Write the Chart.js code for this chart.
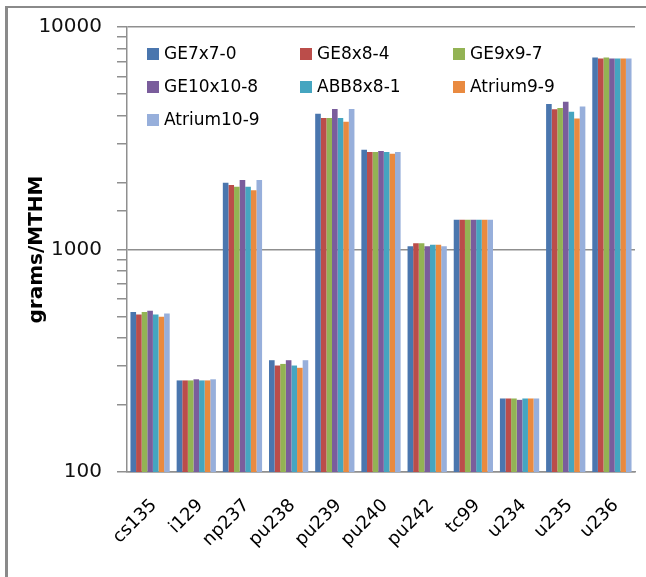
<!DOCTYPE html>
<html lang="en">

<head>
    <meta charset="UTF-8">
    <title>grams/MTHM</title>
    <script src="https://cdn.jsdelivr.net/npm/chart.js@4.4.1/dist/chart.umd.min.js"></script>
    <style>
        body { margin: 0; background: #fff; overflow: hidden; }
        #wrap { position: relative; width: 646px; height: 577px; }
        #frame {
            position: absolute; left: 5px; top: 6px; width: 700px; height: 700px;
            border-top: 2px solid #8a8a8a; border-left: 3px solid #8a8a8a;
        }
        canvas { position: absolute; left: 0; top: 0; }
    </style>
</head>

<body>
    <div id="wrap">
        <div id="frame"></div>
        <canvas id="chart" width="646" height="577"></canvas>
    </div>

    <script>
        const categories = ["cs135", "i129", "np237", "pu238", "pu239", "pu240", "pu242", "tc99", "u234", "u235", "u236"];
        const seriesNames = ["GE7x7-0", "GE8x8-4", "GE9x9-7", "GE10x10-8", "ABB8x8-1", "Atrium9-9", "Atrium10-9"];

        const ge7x7 = [524, 258, 1995, 318, 4072, 2805, 1033, 1362, 214, 4511, 7297];
        const ge8x8 = [510, 258, 1949, 301, 3900, 2741, 1066, 1362, 214, 4268, 7223];
        const ge9x9 = [524, 258, 1915, 306, 3900, 2741, 1066, 1362, 214, 4330, 7297];
        const ge10x10 = [531, 261, 2051, 318, 4277, 2769, 1033, 1362, 211, 4618, 7223];
        const abb8x8 = [510, 258, 1915, 301, 3900, 2741, 1050, 1362, 214, 4156, 7223];
        const atrium9 = [498, 258, 1845, 294, 3755, 2693, 1050, 1362, 214, 3880, 7223];
        const atrium10 = [515, 261, 2051, 318, 4277, 2741, 1033, 1362, 214, 4387, 7223];

        const yTickLabels = [100, 1000, 10000];
        const colors = ["#4a76ae", "#bb4d4a", "#93b354", "#7a5d9c", "#45a5c0", "#e98a40", "#97afdb"];

        const values = [ge7x7, ge8x8, ge9x9, ge10x10, abb8x8, atrium9, atrium10];
        const datasets = values.map((data, i) => ({
            label: seriesNames[i],
            data: data,
            backgroundColor: colors[i],
            borderWidth: 0,
            barPercentage: 1.0,
            categoryPercentage: 0.85
        }));

        // legend is drawn inside the plot, 3 columns like the original
        const insideLegend = {
            id: "insideLegend",
            afterDatasetsDraw(chart) {
                const { ctx, chartArea } = chart;
                ctx.save();
                ctx.font = "17px 'DejaVu Sans'";
                ctx.textBaseline = "middle";
                chart.data.datasets.forEach((ds, i) => {
                    const col = i % 3;
                    const row = Math.floor(i / 3);
                    const x = chartArea.left + 20 + col * 153;
                    const y = chartArea.top + 27 + row * 33;
                    ctx.fillStyle = ds.backgroundColor;
                    ctx.fillRect(x, y - 6, 12, 12);
                    ctx.fillStyle = "#000";
                    ctx.fillText(ds.label, x + 17, y + 1);
                });
                ctx.restore();
            }
        };

        const isMajor = v => yTickLabels.includes(v);

        new Chart(document.getElementById("chart"), {
            type: "bar",
            data: { labels: categories, datasets: datasets },
            options: {
                responsive: false,
                animation: false,
                devicePixelRatio: 1,
                layout: { padding: { top: 23, right: 11, bottom: 0, left: 0 } },
                plugins: {
                    legend: { display: false },
                    tooltip: { enabled: false }
                },
                scales: {
                    x: {
                        grid: { display: false, drawTicks: false },
                        border: { color: "#8f8f8f", width: 1.5 },
                        ticks: {
                            font: { family: "DejaVu Sans", size: 18 },
                            color: "#000",
                            minRotation: 45,
                            maxRotation: 45,
                            padding: 23,
                            labelOffset: 4,
                            autoSkip: false
                        },
                        afterFit: scale => {
                            scale.height = 105;
                            scale.paddingLeft = 0;
                            scale.paddingRight = 0;
                        }
                    },
                    y: {
                        type: "logarithmic",
                        min: 100,
                        max: 10000,
                        border: { color: "#8f8f8f", width: 1.5 },
                        grid: {
                            color: ctx => isMajor(ctx.tick.value) ? "#8f8f8f" : "rgba(0,0,0,0)",
                            tickColor: "#8f8f8f",
                            lineWidth: 1.5,
                            tickLength: 10
                        },
                        ticks: {
                            autoSkip: false,
                            padding: 15,
                            font: { family: "DejaVu Sans", size: 20 },
                            color: "#111",
                            callback: v => isMajor(v) ? String(v) : ""
                        },
                        title: {
                            display: true,
                            text: "grams/MTHM",
                            font: { family: "DejaVu Sans", size: 20, weight: "bold" },
                            color: "#000",
                            padding: { top: 25, bottom: 0 }
                        },
                        afterFit: scale => { scale.width = 127; }
                    }
                }
            },
            plugins: [insideLegend]
        });
    </script>
</body>

</html>
